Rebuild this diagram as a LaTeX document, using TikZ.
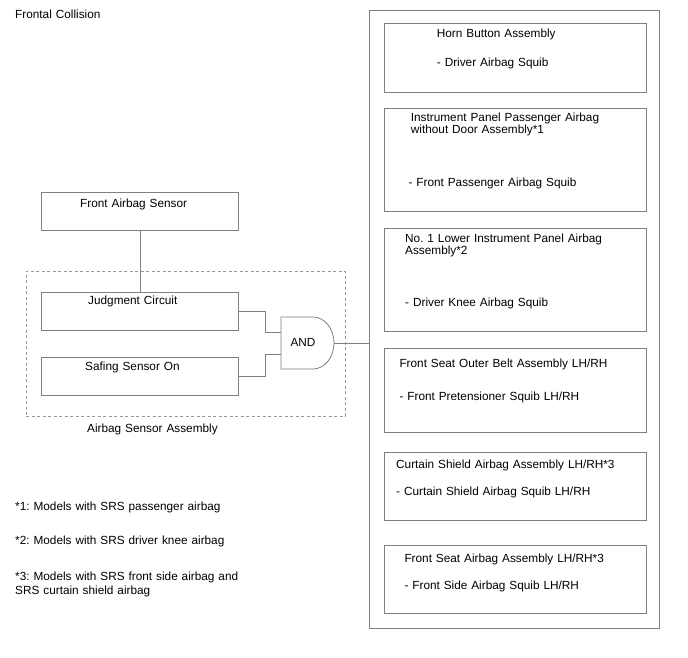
\documentclass[tikz,border=0pt]{standalone}
\usepackage{fontspec}
\setmainfont{Liberation Sans}
\frenchspacing
\begin{document}
\begin{tikzpicture}[x=1pt,y=-1pt,
    box/.style={draw=black!50,line width=.8pt,anchor=north west,inner sep=0pt},
    wire/.style={draw=black!50,line width=.8pt},
    txt/.style={anchor=base west,inner sep=0pt,text width=250pt,align=left,
        font=\fontsize{11.8}{10.5}\selectfont}]

\useasboundingbox (0,0) rectangle (688,658);

    \node[txt] (title) at (15,19){Frontal Collision};

% airbag sensor assembly
\node[box,draw=black!40,dash pattern=on 3pt off 2.5pt,minimum width=319pt,minimum height=145pt] (assy) at (26,271){};
\node[box,minimum width=197pt,minimum height=38pt] (fas) at (41,192){};
\node[box,minimum width=197pt,minimum height=38pt] (jc) at (41,292){};
\node[box,minimum width=197pt,minimum height=38pt] (sf) at (41,357){};
    \node[txt] (fastxt) at (80,207){Front Airbag Sensor};
    \node[txt] (jctxt) at (88,304){Judgment Circuit};
    \node[txt] (sftxt) at (85,370.5){Safing Sensor On};
    \node[txt] (assytxt) at (87,432.5){Airbag Sensor Assembly};

% and gate
\draw[wire,fill=white](281,317)--(313,317) arc(-90:90:21 and 26)--(281,369)--cycle;
\coordinate (gin1) at (281,332.7);
\coordinate (gin2) at (281,354.3);
\coordinate (gout) at (334,343.3);
    \node[font=\fontsize{11.8}{12}\selectfont,inner sep=0pt] (andtxt) at (303,342){AND};

% squib unit
\node[box,minimum width=290pt,minimum height=618pt] (unit) at (369,10){};
  \foreach \n/\y/\h in {horn/23.3/68.7,pab/108.3/102.4,knee/228/102.7,belt/348.3/83.4,curtain/451.7/68.3,side/545/68.3}
{
    \node[box,minimum width=262pt,minimum height=\h pt] (\n) at (384,\y){};
}
    \node[txt] (horntxt) at (436.7,38){Horn Button Assembly};
    \node[txt] (hornsq) at (436.7,66.5){- Driver Airbag Squib};
    \node[txt] (pabtxt) at (410.7,121.5){Instrument Panel Passenger Airbag\\without Door Assembly*1};
    \node[txt] (pabsq) at (408.3,186){- Front Passenger Airbag Squib};
    \node[txt] (kneetxt) at (405,242.5){No. 1 Lower Instrument Panel Airbag\\Assembly*2};
    \node[txt] (kneesq) at (405,306.5){- Driver Knee Airbag Squib};
    \node[txt] (belttxt) at (399.3,367.3){Front Seat Outer Belt Assembly LH/RH};
    \node[txt] (beltsq) at (399.3,400.5){- Front Pretensioner Squib LH/RH};
    \node[txt] (curtaintxt) at (396,468){Curtain Shield Airbag Assembly LH/RH*3};
    \node[txt] (curtainsq) at (396,495.7){- Curtain Shield Airbag Squib LH/RH};
    \node[txt] (sidetxt) at (404.3,562.3){Front Seat Airbag Assembly LH/RH*3};
    \node[txt] (sidesq) at (404.3,589){- Front Side Airbag Squib LH/RH};

% notes
    \node[txt] (note1) at (15,510.7){*1: Models with SRS passenger airbag};
    \node[txt] (note2) at (15,544){*2: Models with SRS driver knee airbag};
    \node[txt] (note3) at (15,580.7){*3: Models with SRS front side airbag and\\[1.5pt]SRS curtain shield airbag};

% connections
\draw[wire](fas.south)--(jc.north);
\draw[wire](jc.east)--++(26.7,0)|-(gin1);
\draw[wire](sf.east)--++(26.7,0)|-(gin2);
\draw[wire](gout)--(gout-|unit.west);
\end{tikzpicture}
\end{document}
